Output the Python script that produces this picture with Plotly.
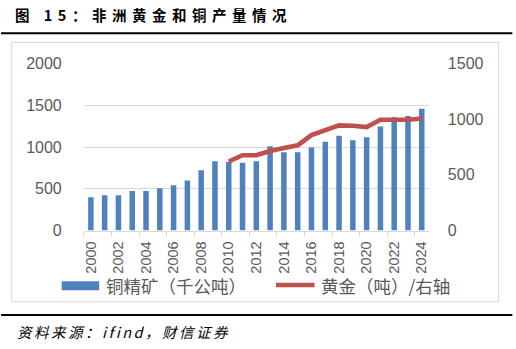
import plotly.graph_objects as go

years = [str(y) for y in range(2000, 2025)]
copper = [400, 422, 422, 474, 474, 506, 542, 598, 721, 829, 822, 813, 829, 1008,
          937, 937, 993, 1064, 1136, 1080, 1116, 1244, 1355, 1371, 1459]
gold_years = [str(y) for y in range(2010, 2025)]
gold = [620, 676, 676, 714, 741, 765, 857, 905, 944, 941, 929, 995, 995, 995, 1006]
tick_labels = [str(y) for y in range(2000, 2025, 2)]

W, H = 516, 349
# The page is photographed with the default body margin and fitted back to the
# window; these constants convert window pixels into figure pixels.
SX, OX = 0.982, 5.9
SY, OY = 0.956, 7.3
def px(x):
    return ((x - OX) / SX) / W
def py(y):
    return 1 - ((y - OY) / SY) / H

GRAY = "#595959"
BLUE = "#4F81BD"
RED = "#C0504D"
FONT = "Noto Sans CJK SC, Liberation Sans, sans-serif"
NUMFONT = "Liberation Sans, Arial, sans-serif"

fig = go.Figure()
fig.add_trace(go.Bar(x=years, y=copper, marker=dict(color=BLUE, line=dict(width=0)),
                     width=0.4, name="铜精矿（千公吨）"))
fig.add_trace(go.Scatter(x=gold_years, y=gold, yaxis="y2", mode="lines",
                         line=dict(color=RED, width=4.6), name="黄金（吨）/右轴"))

fig.update_layout(
    width=W, height=H, autosize=False,
    margin=dict(l=0, r=0, t=0, b=0),
    paper_bgcolor="white", plot_bgcolor="white",
    showlegend=False,
    xaxis=dict(type="category", domain=[px(87.7), px(427.5)],
               categoryorder="array", categoryarray=years,
               tickmode="array", tickvals=tick_labels, ticktext=tick_labels,
               tickson="boundaries", tickangle=-90,
               tickfont=dict(family=NUMFONT, size=14.5, color=GRAY),
               showline=True, linecolor="#D9D9D9", linewidth=1,
               ticks="outside", ticklen=5, tickcolor="#D9D9D9",
               ticklabelstandoff=4,
               showgrid=False, zeroline=False, fixedrange=True),
    yaxis=dict(domain=[py(231), py(63)], range=[0, 2000], dtick=500,
               tickfont=dict(family=NUMFONT, size=16, color=GRAY),
               showgrid=True, gridcolor="#D9D9D9", gridwidth=1,
               zeroline=False, showline=False,
               ticks="outside", ticklen=18, tickcolor="rgba(0,0,0,0)"),
    yaxis2=dict(overlaying="y", side="right", range=[0, 1500], dtick=500,
                tickfont=dict(family=NUMFONT, size=16, color=GRAY),
                showgrid=False, zeroline=False, showline=False,
                ticks="outside", ticklen=15, tickcolor="rgba(0,0,0,0)"),
)

shapes = [
    dict(type="line", xref="paper", yref="paper", x0=0, x1=px(510), y0=py(32.7), y1=py(32.7),
         line=dict(color="black", width=2)),
    dict(type="rect", xref="paper", yref="paper", x0=px(16.5), x1=px(496.5), y0=py(42), y1=py(302.5),
         line=dict(color="#D9D9D9", width=1)),
    dict(type="line", xref="paper", yref="paper", x0=0, x1=px(510), y0=py(315.7), y1=py(315.7),
         line=dict(color="black", width=2)),
    dict(type="rect", xref="paper", yref="paper", x0=px(65.7), x1=px(102.7), y0=py(291), y1=py(282),
         fillcolor=BLUE, line=dict(width=0)),
    dict(type="line", xref="paper", yref="paper", x0=px(277), x1=px(315), y0=py(285.7), y1=py(285.7),
         line=dict(color=RED, width=4.6)),
]
fig.update_layout(shapes=shapes)

annotations = [
    dict(text="<b><span style='letter-spacing:5.5px'>图 15：非洲黄金和铜产量情况</span></b>",
         x=px(18), y=py(13.5), xref="paper", yref="paper", xanchor="left", yanchor="middle",
         showarrow=False, font=dict(family=FONT, size=14.5, color="black")),
    dict(text="<i><span style='letter-spacing:2.5px'>资料来源：ifind，财信证券</span></i>",
         x=px(20), y=py(332), xref="paper", yref="paper", xanchor="left", yanchor="middle",
         showarrow=False, font=dict(family=FONT, size=14.5, color="black")),
    dict(text="铜精矿（千公吨）", x=px(107), y=py(286.5), xref="paper", yref="paper",
         xanchor="left", yanchor="middle", showarrow=False,
         font=dict(family=FONT, size=17.5, color=GRAY)),
    dict(text="黄金（吨）/右轴", x=px(319), y=py(286.5), xref="paper", yref="paper",
         xanchor="left", yanchor="middle", showarrow=False,
         font=dict(family=FONT, size=17.5, color=GRAY)),
]
fig.update_layout(annotations=annotations)

fig.write_html("out.html")
